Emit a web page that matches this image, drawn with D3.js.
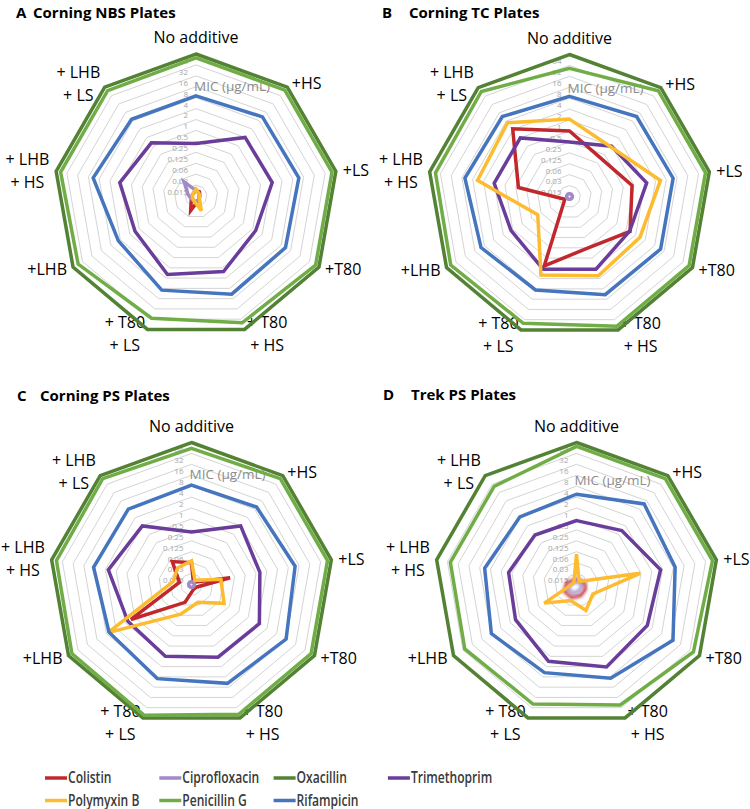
<!DOCTYPE html>
<html>
<head>
<meta charset="utf-8">
<script src="https://cdn.jsdelivr.net/npm/d3@7"></script>
<style>
  body { margin: 0; background: #fff; }
  svg { display: block; }
</style>
</head>
<body>
<svg id="chart"></svg>
<script>
// categories (spokes), clockwise from the top
var categories = [['No additive'], ['+HS'], ['+LS'], ['+T80'], ['+ T80', '+ HS'],
                  ['+ T80', '+ LS'], ['+LHB'], ['+ LHB', '+ HS'], ['+ LHB', '+ LS']];
var tickLabels = ['0.015', '0.03', '0.06', '0.125', '0.25', '0.5', '1', '2', '4', '8', '16', '32', '64'];
var drugs = ['Colistin', 'Ciprofloxacin', 'Oxacillin', 'Trimethoprim', 'Polymyxin B', 'Penicillin G', 'Rifampicin'];
var drugColors = ['#C0282E', '#A08AC8', '#548235', '#6A3D9A', '#FDBB2F', '#70AD47', '#4475BE'];

// MIC (ug/mL), in category order
var nbsPlates = {
  'Colistin':      [0.011, 0.011, 0.010, 0.010, 0.011, 0.021, 0.011, 0.010, 0.010],
  'Ciprofloxacin': [0.011, 0.010, 0.0094, 0.010, 0.011, 0.011, 0.011, 0.013, 0.025],
  'Oxacillin':     [64, 64, 64, 64, 64, 64, 64, 64, 64],
  'Trimethoprim':  [0.22, 1, 1.06, 0.62, 1.29, 1.56, 0.68, 1.06, 0.64],
  'Polymyxin B':   [0.012, 0.010, 0.010, 0.010, 0.021, 0.011, 0.010, 0.010, 0.010],
  'Penicillin G':  [50, 50, 50, 50, 41, 30, 44, 48, 48],
  'Rifampicin':    [4.5, 5.5, 5.9, 5.5, 5.9, 4.5, 2.3, 5.9, 4.5]
};
var tcPlates = {
  'Colistin':      [0.5, 0.18, 0.44, 0.66, 0.25, 0.85, 0.011, 0.21, 2.13],
  'Ciprofloxacin': [0.0094, 0.0094, 0.0094, 0.0094, 0.0094, 0.0094, 0.0094, 0.0094, 0.0094],
  'Oxacillin':     [64, 64, 64, 64, 64, 64, 64, 64, 64],
  'Trimethoprim':  [0.25, 0.5, 1.13, 0.64, 1.06, 1.06, 0.57, 1, 1],
  'Polymyxin B':   [1.06, 0.47, 2.74, 1.37, 1.66, 1.56, 0.08, 2.92, 3.53],
  'Penicillin G':  [26.5, 50, 50, 50, 50, 41, 47, 44, 47],
  'Rifampicin':    [4.5, 5.9, 6.2, 6.2, 5.9, 4.3, 5.1, 6.6, 5.9]
};
var psPlates = {
  'Colistin':      [0.031, 0.0094, 0.094, 0.011, 0.011, 0.026, 0.66, 0.017, 0.052],
  'Ciprofloxacin': [0.0094, 0.0094, 0.0094, 0.0094, 0.0094, 0.0094, 0.0094, 0.0094, 0.0094],
  'Oxacillin':     [64, 64, 64, 64, 64, 64, 64, 64, 64],
  'Trimethoprim':  [0.22, 1, 0.64, 1.13, 1.06, 1, 0.83, 1.66, 1],
  'Polymyxin B':   [0.035, 0.011, 0.052, 0.085, 0.026, 0.058, 3.53, 0.025, 0.031],
  'Penicillin G':  [44, 50, 50, 50, 50, 53, 50, 47, 50],
  'Rifampicin':    [4.3, 4.8, 6.2, 8, 6.2, 4.5, 3.3, 4.3, 4]
};
var trekPlates = {
  'Colistin':      [0.011, 0.011, 0.013, 0.0147, 0.0166, 0.0188, 0.0188, 0.0147, 0.011],
  'Ciprofloxacin': [0.0094, 0.0094, 0.011, 0.011, 0.0122, 0.0138, 0.0147, 0.011, 0.0094],
  'Oxacillin':     [64, 64, 64, 64, 64, 64, 64, 64, 64],
  'Trimethoprim':  [0.45, 0.68, 1.76, 1.4, 2.05, 1.4, 0.68, 0.62, 0.47],
  'Polymyxin B':   [0.054, 0.010, 0.47, 0.026, 0.045, 0.023, 0.083, 0.010, 0.010],
  'Penicillin G':  [50, 50, 50, 41, 26.5, 25, 28, 26.5, 26.5],
  'Rifampicin':    [2.4, 6.2, 4.5, 9.2, 4.4, 3, 4, 2.9, 2.1]
};

var width = 750, height = 809, R = 142;
var font = '"Open Sans", "Noto Sans", sans-serif';

var panels = [
  {letter: 'A', name: 'Corning NBS Plates', data: nbsPlates, cx: 196, cy: 196, lx: 16, nx: 33, ty: 17.5, micDy: -110},
  {letter: 'B', name: 'Corning TC Plates', data: tcPlates, cx: 569.5, cy: 196.5, lx: 382, nx: 409, ty: 17.5, micDy: -108},
  {letter: 'C', name: 'Corning PS Plates', data: psPlates, cx: 191.5, cy: 584.5, lx: 17, nx: 40, ty: 400.5, micDy: -110},
  {letter: 'D', name: 'Trek PS Plates', data: trekPlates, cx: 576.5, cy: 584.5, lx: 383, nx: 411, ty: 400, micDy: -104, blur: true}
];

var svg = d3.select('#chart')
  .attr('width', width)
  .attr('height', height)
  .style('font-family', font);

svg.append('defs').append('filter')
  .attr('id', 'soft')
  .attr('x', '-50%').attr('y', '-50%').attr('width', '200%').attr('height', '200%')
  .append('feGaussianBlur')
  .attr('stdDeviation', 1.6);

var tickValues = tickLabels.map((t, k) => Math.pow(2, k - 6));

var rScale = d3.scaleLog()
  .base(2)
  .domain([1 / 128, 64])
  .range([0, R]);

var n = categories.length;
var angle = i => i * 2 * Math.PI / n;

var radar = d3.lineRadial()
  .angle((d, i) => angle(i))
  .radius(d => rScale(d))
  .curve(d3.curveLinearClosed);

panels.forEach(function(p) {
  // title
  svg.append('text')
    .attr('x', p.lx).attr('y', p.ty)
    .style('font-size', '15px').style('font-weight', 700)
    .text(p.letter);
  svg.append('text')
    .attr('x', p.nx).attr('y', p.ty)
    .style('font-size', '15px').style('font-weight', 700)
    .text(p.name);

  var g = svg.append('g')
    .attr('transform', 'translate(' + p.cx + ',' + p.cy + ')');

  // rings
  g.selectAll('path.ring')
    .data(tickValues)
    .enter()
    .append('path')
      .attr('class', 'ring')
      .attr('d', t => radar(categories.map(() => t)))
      .attr('fill', 'none')
      .attr('stroke', '#d4d4d4')
      .attr('stroke-width', 1);

  // value labels
  g.selectAll('text.tick')
    .data(tickValues)
    .enter()
    .append('text')
      .attr('class', 'tick')
      .attr('x', -8)
      .attr('y', t => -rScale(t) + 7)
      .attr('dy', '0.35em')
      .style('text-anchor', 'end')
      .style('font-size', '8px')
      .style('fill', '#a6a6a6')
      .text((t, k) => tickLabels[k]);

  g.append('text')
    .attr('x', -2)
    .attr('y', p.micDy)
    .attr('dy', '0.35em')
    .style('font-size', '13.5px')
    .style('fill', '#8c8c8c')
    .text('MIC (\u00b5g/mL)');

  // category labels
  categories.forEach(function(lines, i) {
    var a = angle(i), s = Math.sin(a), c = Math.cos(a);
    var t = g.append('text')
      .style('font-size', '16px')
      .style('fill', '#000');
    if (i === 0) {
      t.attr('x', 0).attr('y', -R - 11)
        .style('text-anchor', 'middle')
        .text(lines[0]);
      return;
    }
    var spans = lines.map(l => t.append('tspan').text(l));
    var w = d3.max(spans, sp => sp.node().getComputedTextLength());
    var ax = (R + 7) * s, ay = -(R + 5) * c;
    var mx = s > 0 ? ax + w / 2 : ax - w / 2;
    spans.forEach(function(sp, k) {
      sp.attr('x', mx)
        .attr('y', ay + (k - (lines.length - 1) / 2) * 23)
        .attr('dy', '0.35em')
        .style('text-anchor', 'middle');
    });
  });

  // series
  drugs.forEach(function(drug, j) {
    var path = g.append('path')
      .attr('d', radar(p.data[drug]))
      .attr('fill', 'none')
      .attr('stroke', drugColors[j])
      .attr('stroke-width', 3.5)
      .attr('stroke-linejoin', 'miter')
      .attr('stroke-miterlimit', 4);
    if (p.blur && (drug === 'Colistin' || drug === 'Ciprofloxacin')) {
      path.attr('filter', 'url(#soft)').attr('opacity', 0.85);
    }
  });
});

// legend
var legend = svg.append('g');
drugs.forEach(function(drug, j) {
  var x = 45 + (j % 4) * 114.3,
      y = 778 + Math.floor(j / 4) * 22.5;
  legend.append('line')
    .attr('x1', x).attr('x2', x + 22)
    .attr('y1', y).attr('y2', y)
    .attr('stroke', drugColors[j])
    .attr('stroke-width', 3.5);
  legend.append('text')
    .attr('transform', 'translate(' + (x + 23) + ',' + y + ') scale(0.78,1)')
    .attr('dy', '0.35em')
    .style('font-size', '15.5px')
    .style('font-weight', 600)
    .style('fill', '#3a3a3a')
    .text(drug);
});
</script>
</body>
</html>
